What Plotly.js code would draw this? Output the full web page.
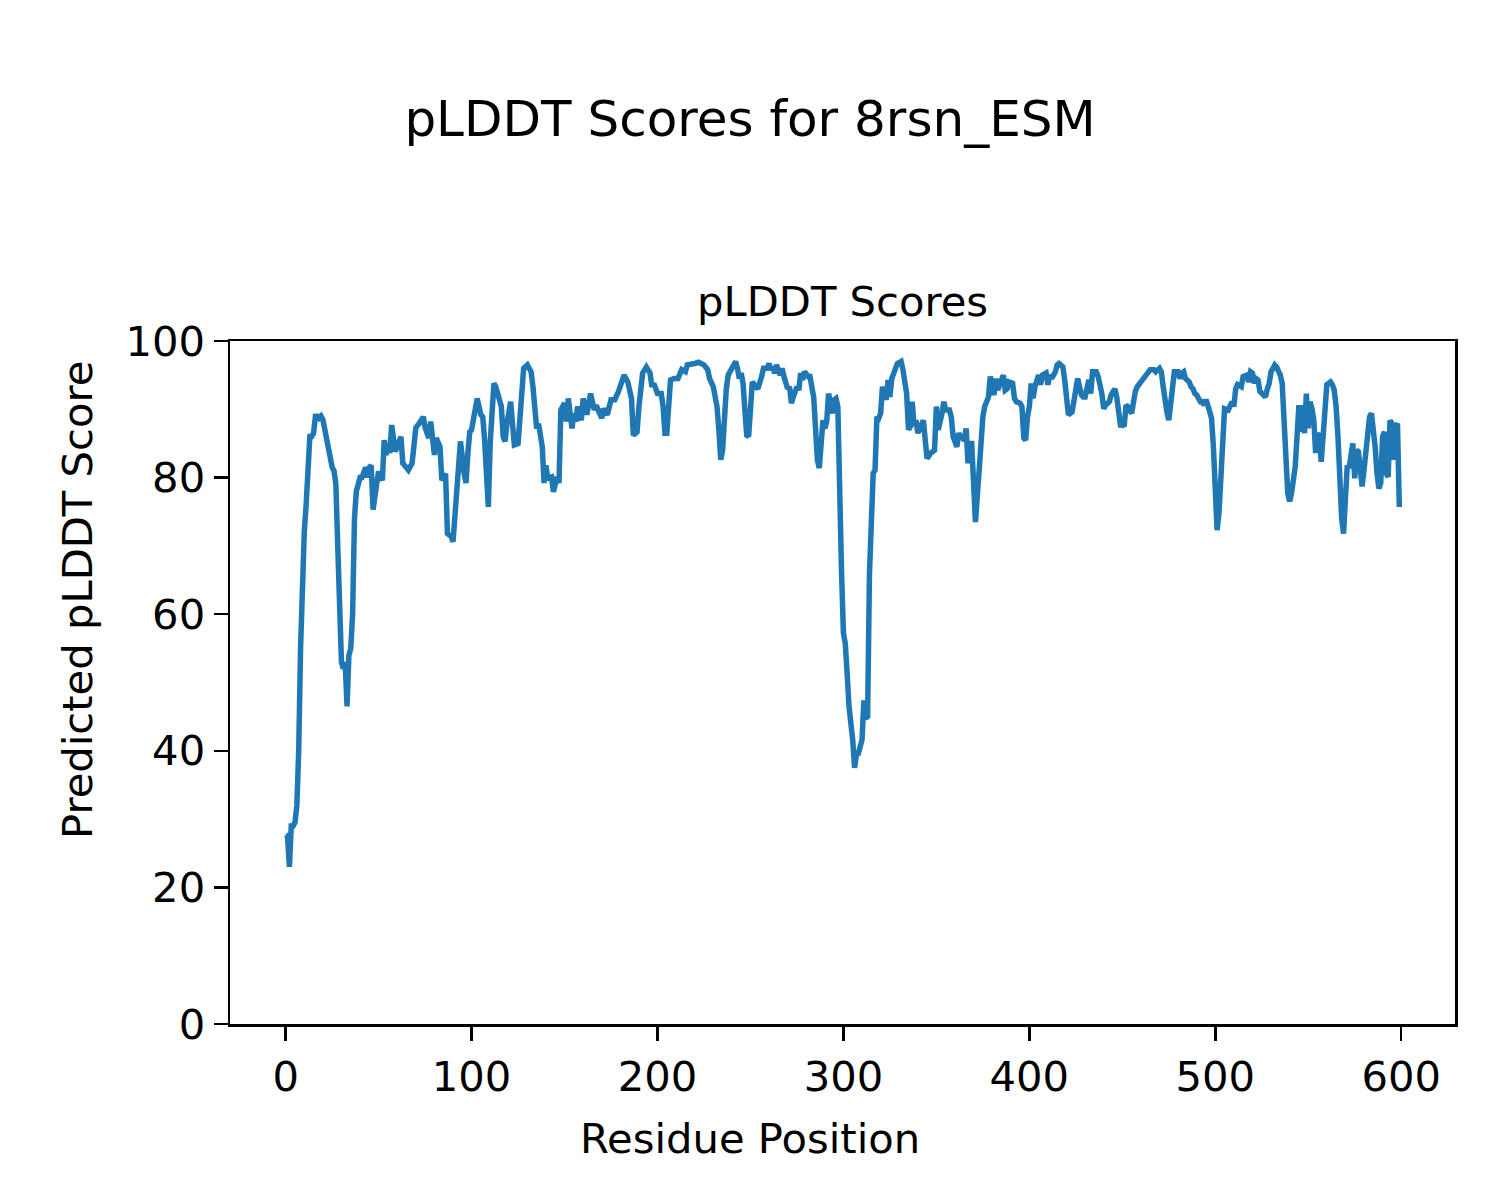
<!DOCTYPE html>
<html>
<head>
<meta charset="utf-8">
<script src="https://cdn.plot.ly/plotly-3.0.1.min.js"></script>
<style>html,body{margin:0;padding:0;background:#fff;}#chart{width:1500px;height:1200px;}</style>
</head>
<body>
<div id="chart"></div>
<script>
// Residue positions and pLDDT scores
const residues = [0,1,2,3,4,5,6,7,8,9,10,11,12,13,14,15,16,17,18,19,20,21,22,23,24,25,26,27,28,29,30,31,32,33,34,35,36,37,38,39,40,41,42,43,44,45,46,47,49,50,52,53,54,55,56,57,59,60,62,63,66,68,70,72,74,75,77,78,80,81,83,84,86,87,89,90,92,93,94,96,97,98,99,100,102,103,105,106,107,109,110,112,113,114,116,117,118,119,121,122,123,125,126,127,128,130,132,133,134,135,136,137,138,139,140,141,143,144,146,147,148,150,151,152,154,155,156,157,159,160,162,163,164,166,167,168,170,171,173,175,177,179,181,182,184,186,187,189,190,191,192,194,196,197,198,200,202,203,204,205,206,207,209,211,213,215,216,218,220,222,224,225,227,228,230,232,233,234,235,236,237,238,240,242,243,244,245,246,247,248,249,250,251,253,254,256,257,259,260,261,262,263,264,266,267,268,269,270,271,272,273,275,276,277,278,279,281,282,284,285,286,287,288,289,290,291,292,294,295,296,297,298,299,300,301,302,303,305,306,307,308,310,311,312,313,314,315,316,317,318,319,320,321,323,324,325,326,328,329,331,332,334,335,336,337,338,339,340,341,343,344,345,347,349,350,351,353,354,355,357,358,359,361,362,363,365,366,367,368,369,371,372,373,375,376,378,379,380,381,382,383,385,386,387,388,389,391,392,393,395,396,397,398,399,400,401,402,403,405,406,407,409,410,411,412,414,415,416,418,419,420,421,423,424,425,426,428,429,430,432,433,434,436,437,439,440,441,443,444,446,447,448,449,450,451,452,453,455,456,457,458,460,461,463,465,467,468,470,471,472,473,474,475,476,477,478,480,481,482,483,484,486,487,488,489,490,492,493,494,495,496,498,499,500,501,502,503,504,505,507,508,509,510,511,512,514,515,517,518,519,520,521,522,523,524,526,527,528,529,530,532,533,535,536,537,538,539,540,541,543,544,545,546,547,548,549,550,551,552,553,554,555,556,557,558,559,560,562,563,564,565,566,567,568,569,570,571,572,574,575,576,577,578,579,580,582,583,584,585,586,587,588,589,590,591,592,593,594,595,596,597,598,599];
const plddt = [27.7,27.5,23,29,29,29.5,32,40,55,66,72,76,83,86,86,86.5,89,89,88.7,89,88.5,87,86.5,85,83.5,81.5,81,79,70,60,53,52,53,46.5,54,55,60,74,78,79,80,80,81,81.5,80,81.5,81.8,75.3,79.2,80.9,79.6,85.5,83.3,85,83.6,87.7,83.8,84.5,86,82.1,81.1,82.1,87.3,88,88.9,87.3,85.8,88.2,83.3,85.8,84.5,79.6,80.6,71.8,71.4,70.6,77.2,80.6,85.3,80.6,79.2,83.6,86.7,87,89.9,91.6,89.2,88.9,85.5,75.7,85,93.8,93.3,92.1,90.4,86,85.3,87.9,91.1,87.9,84.8,85,89.4,93.8,96,96.5,95.5,93.3,90.4,87.2,87.9,85.5,84.5,79.2,81.8,79.9,80.1,77.9,80.1,79.2,89.9,90.9,88.2,91.6,87.2,89.4,88.2,90.4,88.4,91.6,89.2,90.9,92.3,89.9,90.6,89.9,88.7,90.1,89.2,91.4,91.4,92.6,94.3,95,94,91.6,86.2,86.7,90.4,92.3,95.3,96.2,95.3,93.3,93.8,92.3,92.3,90.4,86.5,86.5,91.8,94.3,94.5,94.5,95.8,95.5,96.5,96.5,96.7,96.9,96.7,96.5,95.8,94.5,93.3,90.4,87,82.6,84,88.9,93,95,96.2,97,96,94.5,95.3,93.8,89.9,86.2,86,89.9,94,93.3,93,94.8,96,96,96.7,95.8,96.2,95.3,96.5,95,96,94.8,93.8,93,93.3,90.9,91.8,93.3,92.8,95.3,94.3,95.5,94.8,94.8,91.8,86.5,82.6,81.4,85,88.4,87.2,88.2,92.3,89.4,91.4,91.6,90.4,75.7,66,57.2,55.7,51.3,46.5,41.6,37.5,39.4,39.6,41.6,47.4,44.8,45,66,76.7,80.6,81.1,88.9,88.7,89.4,93.3,91.4,94.3,91.8,94.5,95.8,96.7,97,95.8,92.3,87,87.5,91.1,87.5,88.4,86.5,87,88.4,85.5,82.8,83.6,84,90.4,87,89.4,91.1,89.9,89.9,88.9,86,84.5,86.5,86,85.5,87.2,82.1,85,85,73.5,78.7,81.1,88.9,90.4,91.8,94.8,93,92.1,94.5,92.8,94.3,95,92.8,93,94,93.8,91.6,91.1,90.9,90.4,85.8,85.5,88.9,90.4,93.8,91.6,93.3,95,93.6,95,95.3,93.6,95,94.5,95.5,96.5,96.7,96.2,94.3,91.4,89.2,89.6,91.4,93.3,94.5,92.1,91.8,91.8,94.3,92.3,95.5,95.5,94.8,92.3,90.1,90.6,91.1,92.1,93,91.8,89.9,87.7,87.7,87.5,90.6,90.4,89.4,91.8,92.6,93.3,94,94.5,95.3,95.8,95.8,95.5,96,95.5,93.3,90.4,89.6,88.4,91.1,94.3,95.5,95.5,94.5,95.3,95.5,94.5,94,93.3,93,92.3,92.1,91.1,91.1,90.6,91.4,90.6,88.7,84.5,76,72.3,74.8,80.6,87.9,90.1,89.9,90.4,91.1,90.4,93,93.6,93.3,94.8,95,94,95.5,95.3,93.8,94.5,94.3,92.6,92.1,91.8,93,93.8,95.5,96.5,96.2,95,93.8,87.5,81.1,77.7,76.5,77.7,81.6,87,90.6,86.7,90.6,86.5,92.3,87.2,91.1,90.1,88.4,83.6,86.5,86,82.3,86,90.4,93.6,94,93.6,92.8,90.4,86,79,74,71.8,77.2,81.8,81.4,85,79.9,84,83.8,80.6,78.7,81.1,85.5,88.9,89.4,87.5,84.5,80.6,78.4,79.2,86,86.7,80.6,80.1,88.4,87.9,82.6,87.5,87.9,75.7];
const xTicks = [0, 100, 200, 300, 400, 500, 600];
const yTicks = [0, 20, 40, 60, 80, 100];
const figTitle = "pLDDT Scores for 8rsn_ESM";
const axTitle = "pLDDT Scores";
const xLabel = "Residue Position";
const yLabel = "Predicted pLDDT Score";

const FONT = "DejaVu Sans, Liberation Sans, sans-serif";
const trace = {
  x: residues, y: plddt, type: "scatter", mode: "lines",
  line: {color: "#1f77b4", width: 5.5}, hoverinfo: "x+y"
};
const axisCommon = {
  showgrid: false, zeroline: false, showline: true, mirror: true,
  linecolor: "#000", linewidth: 2.5, ticks: "outside", ticklen: 14,
  tickwidth: 2.5, tickcolor: "#000",
  tickfont: {family: FONT, size: 41.7, color: "#000"}
};
// plot area in pixels: x 230..1455, y 341..1024
const PL = 230, PR = 1455, PT = 341, PB = 1024;
const layout = {
  width: 1500, height: 1200,
  paper_bgcolor: "#fff", plot_bgcolor: "#fff",
  margin: {l: PL, r: 1500 - PR, t: PT, b: 1200 - PB},
  showlegend: false,
  font: {family: FONT, color: "#000"},
  title: {text: figTitle, font: {family: FONT, size: 50, color: "#000"},
          x: 0.5, xanchor: "center", y: 1 - 118/1200, yanchor: "middle", xref: "container", yref: "container"},
  xaxis: Object.assign({}, axisCommon, {
    range: [-29.95, 628.95], tickvals: xTicks, ticktext: xTicks.map(String)
  }),
  yaxis: Object.assign({}, axisCommon, {
    range: [0, 100], tickvals: yTicks, ticktext: yTicks.map(String)
  }),
  annotations: [
    {text: axTitle, xref: "paper", yref: "paper", x: 0.5, y: (PB - 302)/(PB - PT),
     xanchor: "center", yanchor: "middle", showarrow: false,
     font: {family: FONT, size: 41.7, color: "#000"}},
    {text: xLabel, xref: "paper", yref: "paper", x: (750 - PL)/(PR - PL), y: (PB - 1138)/(PB - PT),
     xanchor: "center", yanchor: "middle", showarrow: false,
     font: {family: FONT, size: 41.7, color: "#000"}},
    {text: yLabel, xref: "paper", yref: "paper", x: (77 - PL)/(PR - PL), y: (PB - 600)/(PB - PT),
     xanchor: "center", yanchor: "middle", showarrow: false, textangle: -90,
     font: {family: FONT, size: 41.7, color: "#000"}}
  ]
};
Plotly.newPlot("chart", [trace], layout, {displayModeBar: false, staticPlot: true});
</script>
</body>
</html>
